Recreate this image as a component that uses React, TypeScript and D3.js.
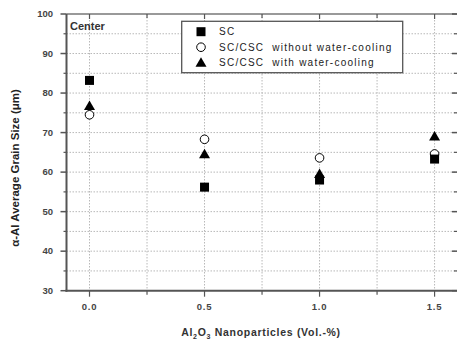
import React from "react";
import * as d3 from "d3";

const xValues = [0.0, 0.5, 1.0, 1.5];
const scValues = [83.2, 56.2, 58.0, 63.3];
const noCoolValues = [74.5, 68.3, 63.6, 64.6];
const coolValues = [76.7, 64.5, 59.5, 69.0];
const seriesNames = ["SC", "SC/CSC  without water-cooling", "SC/CSC  with water-cooling"];
const xTickLabels = ["0.0", "0.5", "1.0", "1.5"];
const yTicks = [30, 40, 50, 60, 70, 80, 90, 100];

const W = 457, H = 345;
const left = 66.5, right = 459, top = 14, bottom = 290.7;

export default function App() {
  const x = d3.scaleLinear().domain([-0.1, 1.604]).range([66.5, 458.5]);
  const y = d3.scaleLinear().domain([30, 100]).range([bottom, top]);
  const gridX = d3.range(0, 1.76, 0.25);
  const gridY = d3.range(35, 100, 5);
  const minorY = d3.range(35, 100, 10);
  const axisColor = "#555";
  const font = "'Liberation Sans', Arial, sans-serif";

  const square = (cx: number, cy: number, k: string) => (
    <rect key={k} x={cx - 4.5} y={cy - 4.5} width={9} height={9} fill="#000" />
  );
  const circle = (cx: number, cy: number, k: string) => (
    <circle key={k} cx={cx} cy={cy} r={4.3} fill="#fff" stroke="#000" strokeWidth={1} />
  );
  const tri = (cx: number, cy: number, k: string) => (
    <path key={k} d={`M${cx},${cy - 5.5} L${cx + 5.5},${cy + 4} L${cx - 5.5},${cy + 4} Z`} fill="#000" />
  );

  return (
    <svg width={W} height={H} style={{ position: "absolute", left: 0, top: 0 }} fontFamily={font}>
      <rect x={0} y={0} width={W} height={H} fill="#fff" />
      {/* grid */}
      {gridX.map((v) => (
        <line key={"gx" + v} x1={x(v)} x2={x(v)} y1={top} y2={bottom} stroke="#b8b8b8" strokeWidth={1} strokeDasharray="1.5,1.5" />
      ))}
      {gridY.map((v) => (
        <line key={"gy" + v} x1={left} x2={right} y1={y(v)} y2={y(v)} stroke="#b8b8b8" strokeWidth={1} strokeDasharray="1.5,1.5" />
      ))}
      {/* frame */}
      <line x1={left} x2={right} y1={top} y2={top} stroke="#777" strokeWidth={1.5} />
      <line x1={left} x2={left} y1={top} y2={bottom + 1} stroke={axisColor} strokeWidth={2} />
      <line x1={left - 1} x2={right} y1={bottom} y2={bottom} stroke={axisColor} strokeWidth={2} />
      {/* y ticks */}
      {yTicks.map((v) => (
        <g key={"yt" + v}>
          <line x1={left - 6} x2={left} y1={y(v)} y2={y(v)} stroke={axisColor} strokeWidth={1.5} />
          <line x1={452} x2={458} y1={y(v)} y2={y(v)} stroke={axisColor} strokeWidth={1.5} />
          <text x={53} y={y(v)} dy="0.35em" textAnchor="end" fontSize={9.5} fontWeight="bold" fill="#444">{v}</text>
        </g>
      ))}
      {minorY.map((v) => (
        <g key={"ym" + v}>
          <line x1={left - 3} x2={left} y1={y(v)} y2={y(v)} stroke={axisColor} strokeWidth={1.2} />
          <line x1={454} x2={458} y1={y(v)} y2={y(v)} stroke={axisColor} strokeWidth={1.2} />
        </g>
      ))}
      {/* x ticks */}
      {gridX.map((v, i) => (
        <g key={"xt" + v}>
          <line x1={x(v)} x2={x(v)} y1={bottom} y2={bottom + (i % 2 === 0 ? 6 : 4)} stroke={axisColor} strokeWidth={1.2} />
          <line x1={x(v)} x2={x(v)} y1={top} y2={top + (i % 2 === 0 ? 5 : 4)} stroke={axisColor} strokeWidth={1.2} />
        </g>
      ))}
      {xValues.map((v, i) => (
        <text key={"xl" + v} x={x(v)} y={307} dy="0.35em" textAnchor="middle" fontSize={9.5} fontWeight="bold" fill="#444" letterSpacing={0.8}>{xTickLabels[i]}</text>
      ))}
      {/* axis titles */}
      <text x={261} y={332} dy="0.35em" textAnchor="middle" fontSize={10.5} fontWeight="bold" fill="#333" letterSpacing={0.7}>
        Al<tspan fontSize={7} dy={3}>2</tspan><tspan dy={-3}>O</tspan><tspan fontSize={7} dy={3}>3</tspan><tspan dy={-3}> Nanoparticles (Vol.-%)</tspan>
      </text>
      <text transform={`translate(15,${168}) rotate(-90)`} textAnchor="middle" dy="0.35em" fontSize={11.5} fontWeight="bold" fill="#222">
        α-Al Average Grain Size (μm)
      </text>
      <text x={70} y={29.5} fontSize={11} fontWeight="bold" fill="#333">Center</text>
      {/* data */}
      {xValues.map((v, i) => circle(x(v), y(noCoolValues[i]), "c" + i))}
      {xValues.map((v, i) => tri(x(v), y(coolValues[i]), "t" + i))}
      {xValues.map((v, i) => square(x(v), y(scValues[i]), "s" + i))}
      {/* legend */}
      <rect x={181.7} y={21.3} width={221} height={51.4} fill="#fff" stroke="#555" strokeWidth={1.3} />
      {seriesNames.map((n, i) => {
        const ly = 31.7 + i * 15.5;
        const mk = i === 0 ? square(201, ly, "ls") : i === 1 ? circle(201, ly, "lc") : tri(201, ly, "lt");
        return (
          <g key={"lg" + i}>
            {mk}
            <text x={219} y={ly} dy="0.35em" fontSize={10} fill="#222" letterSpacing={1.25} style={{ whiteSpace: "pre" }}>{n}</text>
          </g>
        );
      })}
    </svg>
  );
}
